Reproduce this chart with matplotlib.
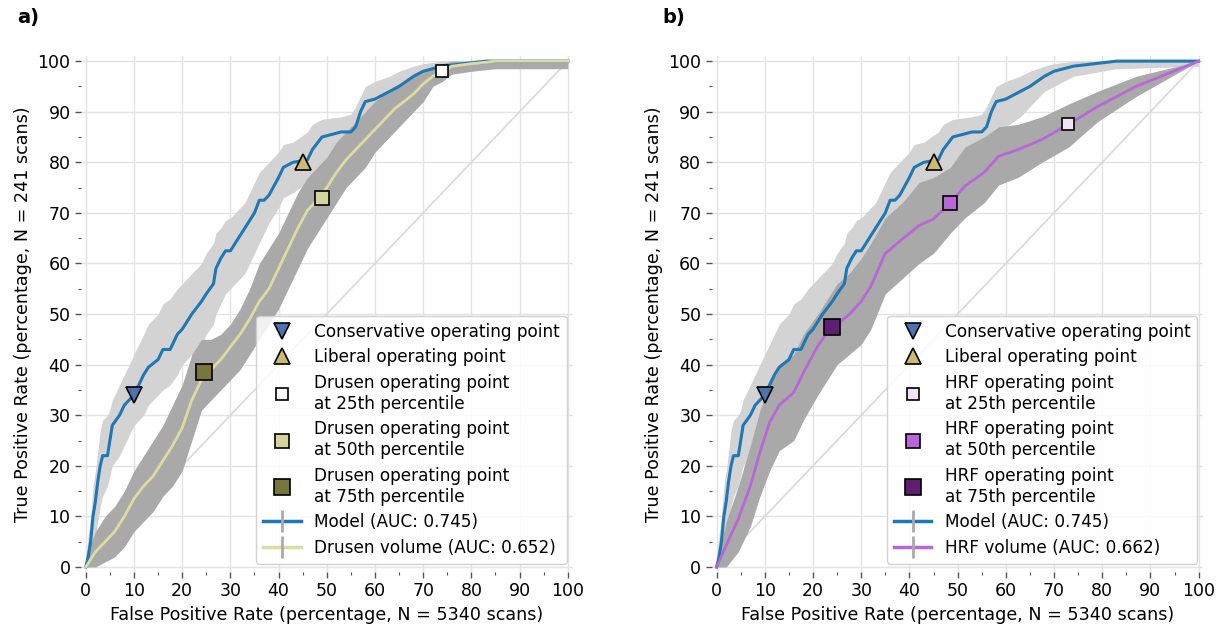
import matplotlib.pyplot as plt
from matplotlib.lines import Line2D
from matplotlib.ticker import MultipleLocator

# Model ROC (same in both panels): fpr, tpr, band low, band high
model_fpr = [0, 0.5, 1, 1.5, 2, 2.5, 3, 3.5, 4.5, 5, 5.5, 7, 8, 9, 10, 11, 12, 13, 15, 16,
             17.5, 19, 20, 22, 24, 25, 26.5, 27, 28, 29, 30, 31, 33, 35, 36, 37, 38, 40, 41,
             43, 46, 47, 49, 53, 55, 56, 57, 58, 60, 63, 65, 68, 70, 74, 83, 100]
model_tpr = [0, 2, 5, 10, 13, 17, 20, 22, 22, 25, 28, 30, 32, 33, 34, 36, 38, 39.5, 41, 43,
             43, 46, 47, 50, 52.5, 54, 56, 59, 61, 62.5, 62.5, 64, 67, 70, 72.5, 72.5, 73.5, 77, 79,
             80, 80.5, 82.5, 85, 86, 86, 87, 90, 92, 92.5, 94, 95, 97, 98, 99, 100, 100]
model_lo = [0, 0, 0, 3, 6, 9, 12, 14, 16, 18, 20, 22, 24, 26, 28, 29, 30, 32, 34, 35,
            36, 38, 40, 42, 44, 46, 48, 50, 52, 54, 55, 56, 58, 62, 64, 66, 68, 71, 73,
            74, 76, 77, 79, 81, 82, 83, 84, 86, 87, 89, 91, 94, 95, 97, 98.5, 99]
model_hi = [2, 6, 10, 16, 19, 23, 27, 29, 30, 31, 33, 36, 38, 40, 42, 44, 46, 48, 50, 52,
            53, 55, 56, 58, 60, 62, 64, 66, 67, 68.5, 69, 70, 72, 76, 78, 79, 80, 82, 83.5,
            84, 86, 87.5, 88.5, 89, 89.5, 91, 93, 95, 96, 97, 98, 99, 99.5, 100, 100, 100]

# Drusen volume ROC (panel a)
drusen_fpr = [0, 2, 4, 6, 8, 10, 12, 14, 16, 18, 20, 22, 24, 26, 28, 30, 32, 34, 36, 38, 40,
              42, 44, 46, 48, 50, 52, 54, 56, 58, 60, 62, 64, 66, 68, 70, 72, 74, 76, 80, 85, 100]
drusen_tpr = [0, 3, 5, 7, 10, 13.5, 16, 18, 21, 24, 27.5, 33, 37, 39, 41, 43.5, 46, 49, 52.5, 55, 59,
              63, 67, 70.5, 72.5, 75, 78, 80.5, 82.5, 84.5, 86.5, 88.5, 90.5, 92, 93.5, 95.5, 97, 98, 99, 99.5, 100, 100]
drusen_lo = [0, 0, 1, 2, 4, 7, 9, 11, 14, 16, 19, 25, 31, 33, 35, 37, 39, 42, 45, 48, 51,
             55, 59, 63, 66, 69, 72, 75, 77, 79, 82, 84, 86, 88, 90, 92, 95, 96, 97.5, 98, 98.5, 98.5]
drusen_hi = [2, 7, 10, 12, 15, 19, 22, 25, 28, 32, 36, 42, 45, 45, 46, 48, 51, 55, 60, 63, 66,
             70, 74, 77, 79, 81, 84, 86, 88, 90, 92, 93.5, 95, 96, 97, 98, 99, 99.5, 100, 100, 100, 100]

# HRF volume ROC (panel b)
hrf_fpr = [0, 2, 4.5, 7, 9, 11, 13, 16, 18, 21, 23, 25, 27.5, 30, 32, 35, 38.5, 42, 45, 48.5,
           51.5, 55.5, 58.5, 62.5, 67.5, 73, 79, 87, 100]
hrf_tpr = [0, 4.3, 9.5, 16, 22.7, 28.6, 32, 34.5, 38.4, 43.7, 46.4, 48, 49.9, 52.5, 55.5, 62, 64.8, 67.5, 68.8, 72,
           75.3, 78, 81.2, 82.5, 84.5, 87.5, 91, 95, 100]
hrf_lo = [0, 0, 3, 8, 14, 19, 23, 25, 29, 34, 37, 40, 42, 44, 47, 54, 57, 60, 62, 66,
          69, 72, 75.5, 77, 80, 83, 88, 93, 100]
hrf_hi = [1, 9, 16, 24, 31, 36, 40, 42, 46, 50, 53, 56, 58, 61, 64, 69, 72, 76, 77, 79,
          83, 85, 87, 87.5, 89, 91.5, 94, 97, 100]

# operating points (fpr, tpr)
conservative = (10, 34)
liberal = (45, 80)
drusen_points = [(74, 98), (49, 73), (24.5, 38.5)]
hrf_points = [(73, 87.5), (48.5, 72), (24, 47.5)]
percentiles = ['25th', '50th', '75th']

model_color = '#1f77b4'
drusen_line = '#dcdca0'
drusen_marks = ['#ffffff', '#d4d49c', '#76763a']
hrf_line = '#b866d8'
hrf_marks = ['#f1e2f5', '#b866d8', '#5e1f70']
sq_sizes = [8, 10, 12]

fig = plt.figure(figsize=(12.23, 6.3), dpi=100)
ax_a = fig.add_axes([0.0662, 0.092, 0.402, 0.819])
ax_b = fig.add_axes([0.582, 0.092, 0.402, 0.819])


def draw_panel(ax, name, f_fpr, f_tpr, f_lo, f_hi, pts, line_c, mark_c, auc):
    ax.plot([0, 100], [0, 100], color='#d9d9d9', lw=1.2, zorder=1)
    ax.fill_between(model_fpr, model_lo, model_hi, color='#d3d3d3', lw=0, zorder=2)
    ax.fill_between(f_fpr, f_lo, f_hi, color='#a9a9a9', lw=0, zorder=3)
    ax.plot(model_fpr, model_tpr, color=model_color, lw=2.2, zorder=4)
    ax.plot(f_fpr, f_tpr, color=line_c, lw=2, zorder=5)

    handles = []
    h = ax.plot(*conservative, marker='v', ms=11, mfc='#4c72b0', mec='black', mew=1.2,
                ls='none', zorder=6, label='Conservative operating point')[0]
    handles.append(h)
    h = ax.plot(*liberal, marker='^', ms=11, mfc='#ccb974', mec='black', mew=1.2,
                ls='none', zorder=6, label='Liberal operating point')[0]
    handles.append(h)
    for p, c, s, pc in zip(pts, mark_c, sq_sizes, percentiles):
        h = ax.plot(*p, marker='s', ms=s, mfc=c, mec='black', mew=1.2, ls='none', zorder=6,
                    label=f'{name} operating point\nat {pc} percentile')[0]
        handles.append(h)

    bar = Line2D([], [], marker='|', ms=16, mew=2, color='#aaaaaa', ls='none')
    handles.append((Line2D([], [], color=model_color, lw=2.5), bar))
    handles.append((Line2D([], [], color=line_c, lw=2.5), bar))
    labels = [hd.get_label() for hd in handles[:5]] + \
        ['Model (AUC: 0.745)', f'{name} volume (AUC: {auc})']
    leg = ax.legend(handles, labels, loc='lower right', fontsize=12.2, frameon=True,
                    framealpha=0.85, edgecolor='#cccccc', handlelength=2.2,
                    labelspacing=0.45, borderaxespad=0.5, bbox_to_anchor=(1.005, 0.0))
    leg.set_zorder(10)

    ax.set_xlim(-1, 101)
    ax.set_ylim(-1, 101)
    ax.xaxis.set_major_locator(MultipleLocator(10))
    ax.yaxis.set_major_locator(MultipleLocator(10))
    ax.xaxis.set_minor_locator(MultipleLocator(5))
    ax.yaxis.set_minor_locator(MultipleLocator(5))
    ax.grid(True, which='major', color='#e3e3e3', lw=1, zorder=0)
    ax.set_axisbelow(True)
    for s in ax.spines.values():
        s.set_visible(False)
    ax.tick_params(which='major', length=4, width=1, color='#555555', labelsize=12.5)
    ax.tick_params(which='minor', length=2, width=0.8, color='#555555')
    ax.set_xlabel('False Positive Rate (percentage, N = 5340 scans)', fontsize=12.6)
    ax.set_ylabel('True Positive Rate (percentage, N = 241 scans)', fontsize=12.6)


draw_panel(ax_a, 'Drusen', drusen_fpr, drusen_tpr, drusen_lo, drusen_hi,
           drusen_points, drusen_line, drusen_marks, '0.652')
draw_panel(ax_b, 'HRF', hrf_fpr, hrf_tpr, hrf_lo, hrf_hi,
           hrf_points, hrf_line, hrf_marks, '0.662')

fig.text(0.014, 0.963, 'a)', fontsize=14, fontweight='bold')
fig.text(0.542, 0.963, 'b)', fontsize=14, fontweight='bold')

fig.savefig('out.png', dpi=100)
